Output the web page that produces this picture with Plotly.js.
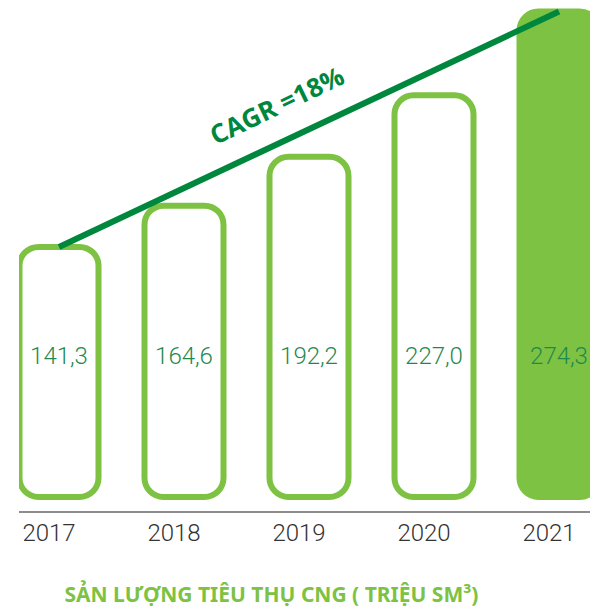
<!DOCTYPE html>
<html>
<head>
<meta charset="utf-8">
<script src="https://cdn.plot.ly/plotly-3.0.1.min.js"></script>
<style>html,body{margin:0;padding:0;background:#fff;}#chart{width:590px;height:609px;}</style>
</head>
<body>
<div id="chart"></div>
<script>
// ---- data ----
var years = ['2017', '2018', '2019', '2020', '2021'];
var values = [141.3, 164.6, 192.2, 227.0, 274.3];
var valueLabels = ['141,3', '164,6', '192,2', '227,0', '274,3'];
var highlighted = [false, false, false, false, true];
var cagrLabel = 'CAGR =18%';
var chartTitle = 'SẢN LƯỢNG TIÊU THỤ CNG ( TRIỆU SM³)';

// ---- style ----
var barGreen = '#7dc242';
var lineGreen = '#00873e';
var labelGreen = '#1f8a4f';
var fills = highlighted.map(function (h) { return h ? barGreen : '#ffffff'; });

var bars = {
  type: 'bar', x: years, y: values,
  base: values.map(function () { return 0; }),
  width: 0.632,
  marker: { color: fills, line: { color: barGreen, width: 6 }, cornerradius: 19 },
  hoverinfo: 'skip', showlegend: false
};

var labelsTrace = {
  type: 'scatter', mode: 'text', x: years,
  y: years.map(function () { return 78.5; }),
  text: valueLabels,
  textfont: { family: 'Roboto', weight: 300, size: 24, color: labelGreen },
  hoverinfo: 'skip', showlegend: false
};
var cagrLine = {
  type: 'scatter', mode: 'lines',
  x: [years[0], years[years.length - 1]],
  y: [values[0], values[values.length - 1]],
  line: { color: lineGreen, width: 6 },
  cliponaxis: false, hoverinfo: 'skip', showlegend: false
};

var layout = {
  width: 590, height: 609,
  margin: { l: 19, r: 0, t: 0, b: 98 },
  paper_bgcolor: '#ffffff', plot_bgcolor: '#ffffff',
  showlegend: false,
  xaxis: {
    type: 'category', range: [-0.32, 4.248],
    showline: true, linecolor: '#8c8c8c', linewidth: 1.5,
    showgrid: false, zeroline: false, ticks: '',
    ticklabelshift: -10,
    tickfont: { family: 'Roboto', weight: 300, size: 24, color: '#333333' }
  },
  yaxis: { visible: false, range: [-7.9, 280.8], showgrid: false, zeroline: false },
  title: {
    text: '<b>' + chartTitle + '</b>',
    x: 0.46, xanchor: 'center', y: 0.023, yanchor: 'middle',
    font: { family: 'Noto Sans', size: 21, color: barGreen }
  },
  annotations: [{
    text: '<b>' + cagrLabel + '</b>', xref: 'x', yref: 'y', x: 1.74, y: 221.5,
    showarrow: false, textangle: -25.6,
    font: { family: 'Open Sans', size: 26, color: lineGreen }
  }]
};

Plotly.newPlot('chart', [bars, cagrLine, labelsTrace], layout, { displayModeBar: false, staticPlot: true });
</script>
</body>
</html>
